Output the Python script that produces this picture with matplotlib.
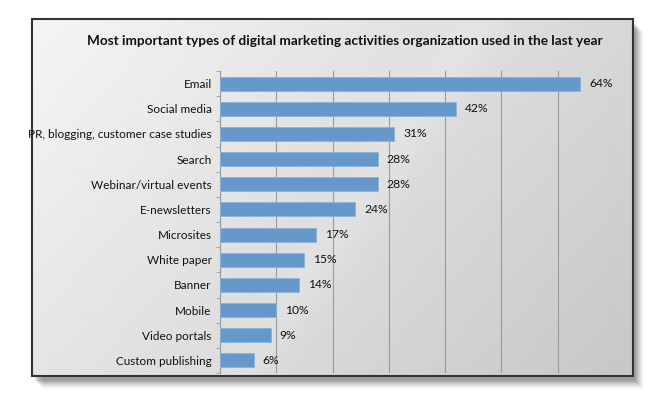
import numpy as np
import matplotlib
matplotlib.use("Agg")
import matplotlib.pyplot as plt
from matplotlib.patches import Rectangle

categories = ["Email", "Social media", "PR, blogging, customer case studies", "Search",
              "Webinar/virtual events", "E-newsletters", "Microsites", "White paper",
              "Banner", "Mobile", "Video portals", "Custom publishing"]
values = [64, 42, 31, 28, 28, 24, 17, 15, 14, 10, 9, 6]
title = "Most important types of digital marketing activities organization used in the last year"

plt.rcParams['font.family'] = ['Lato', 'DejaVu Sans']
W, H = 664, 397
fig = plt.figure(figsize=(W/100, H/100), dpi=100)

# background layer in pixel coordinates
bg = fig.add_axes([0, 0, 1, 1])
bg.set_xlim(0, W); bg.set_ylim(H, 0); bg.axis('off')
# shadow
for i, a in enumerate(np.linspace(0.08, 0.008, 10)):
    bg.add_patch(Rectangle((35 + i, 24 + i), 601, 357, facecolor='black', alpha=a, lw=0, zorder=0))
# gradient panel
x0, y0, x1, y1 = 32, 19, 633, 376
yy, xx = np.mgrid[0:200, 0:300]
t = (xx / 299 * 0.65 + yy / 199 * 0.35)
grad = 0.96 - 0.18 * t
streak = 0.02 * np.exp(-((xx / 299 - 0.75 + yy / 199 * 0.4) / 0.05) ** 2)
img = np.clip(grad + streak, 0, 1)
bg.imshow(img, cmap='gray', vmin=0, vmax=1, extent=(x0, x1, y1, y0), aspect='auto', zorder=1)
bg.add_patch(Rectangle((x0, y0), x1 - x0, y1 - y0, facecolor='none', edgecolor='#333333', lw=1.5, zorder=2))
bg.text(345, 41, title, ha='center', va='center', fontsize=9.8, fontweight='bold', color='#111111', zorder=3)

ax = fig.add_axes([220/W, 1 - 373/H, (614 - 220)/W, (373 - 71)/H])
ax.patch.set_alpha(0)
y = np.arange(len(categories))
ax.barh(y, values, height=0.55, color='#6699c9', edgecolor='#8ab4da', lw=0.6, zorder=3)
ax.set_ylim(len(categories) - 0.5, -0.5)
ax.set_xlim(0, 70)
ax.set_xticks(np.arange(10, 71, 10))
ax.xaxis.grid(True, color='#9a9a9a', lw=0.8, zorder=0)
ax.tick_params(axis='x', bottom=False, labelbottom=False)
ax.set_yticks(y)
ax.set_yticklabels(categories, fontsize=8.5, color='#111111')
ax.tick_params(axis='y', length=0, pad=6)
ax.set_yticks(np.arange(-0.5, len(categories), 1), minor=True)
ax.tick_params(axis='y', which='minor', length=3, color='#999999')
for s in ['top', 'right', 'bottom']:
    ax.spines[s].set_visible(False)
ax.spines['left'].set_color('#999999')
for yi, v in zip(y, values):
    ax.text(v + 1.6, yi, f"{v}%", va='center', ha='left', fontsize=8.7, color='#111111', zorder=4)

fig.savefig('out.png', dpi=100)
